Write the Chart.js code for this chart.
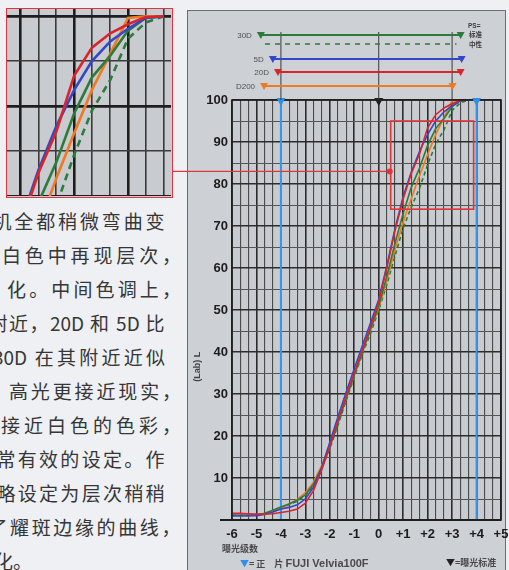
<!DOCTYPE html>
<html lang="zh-CN">
<head>
<meta charset="utf-8">
<title>色调曲线比较</title>
<script src="https://cdn.jsdelivr.net/npm/chart.js@4.4.1/dist/chart.umd.min.js"></script>
<style>
html,body{margin:0;padding:0;}
body{width:509px;height:570px;overflow:hidden;position:relative;background:#eef0f4;font-family:"Noto Sans CJK SC","Noto Sans",sans-serif;}
#panel{position:absolute;left:187px;top:10px;width:319px;height:575px;box-sizing:border-box;border:1.5px solid #6a6c70;background:#cdd0d4;}
#inset{position:absolute;left:6px;top:8px;width:167px;height:190px;box-sizing:border-box;border:1.5px solid #e2353b;background:#c8cbcf;}
#inset canvas{display:block;}
#main{position:absolute;left:0;top:0;}
.ln{position:absolute;height:24px;line-height:24px;font-size:19px;color:#363636;white-space:nowrap;text-align:justify;text-align-last:justify;}
.note{position:absolute;color:#4a4a4a;font-size:9px;line-height:12px;white-space:nowrap;font-weight:bold;}
</style>
</head>
<body>
<div id="panel"></div>

<div id="text">
  <div class="ln" style="left:-7.5px;top:209px;width:172px">机全都稍微弯曲变</div>
  <div class="ln" style="left:2px;top:243px;width:179px">白色中再现层次，</div>
  <div class="ln" style="left:7px;top:277px;width:174px">化。中间色调上，</div>
  <div class="ln" style="left:-11.5px;top:311px;width:176px">附近，20D 和 5D 比</div>
  <div class="ln" style="left:-7px;top:345px;width:172px">30D 在其附近近似</div>
  <div class="ln" style="left:9px;top:379px;width:172px">高光更接近现实，</div>
  <div class="ln" style="left:1px;top:413px;width:180px">接近白色的色彩，</div>
  <div class="ln" style="left:-3.5px;top:447px;width:168px">常有效的设定。作</div>
  <div class="ln" style="left:-3.5px;top:481px;width:168px">略设定为层次稍稍</div>
  <div class="ln" style="left:-11.5px;top:515px;width:192px">了耀斑边缘的曲线，</div>
  <div class="ln" style="left:-6px;top:549px;text-align:left;text-align-last:left">化。</div>
</div>

<div id="inset"><canvas id="zoomChart" width="164" height="187"></canvas></div>
<canvas id="main" width="509" height="570"></canvas>

<div class="note" style="left:222px;top:543px;">曝光级数</div>
<div class="note" style="left:240px;top:557px;"><span style="color:#2f8fe6">▼</span>= 正&#12288;片 <span style="font-family:'Liberation Sans',sans-serif;font-size:11px;">FUJI Velvia100F</span></div>
<div class="note" style="left:446px;top:557px;"><span style="color:#222">▼</span>=曝光标准</div>

<script>
// Exposure (stops) at which each L value was measured
const stops = [-6, -5.67, -5.33, -5, -4.67, -4.33, -4, -3.67, -3.33, -3,
               -2.67, -2.33, -2, -1.67, -1.33, -1, -0.67, -0.33, 0, 0.33,
               0.67, 1, 1.33, 1.67, 2, 2.33, 2.67, 3, 3.33, 3.67];

// L (Lab) per camera
const l20D  = [1.6, 1.6, 1.5, 1.4, 1.4, 1.5, 1.8, 2.1, 2.6, 4.0,
               7.0, 12, 17.5, 23.5, 29.5, 35, 40.5, 46, 52, 60,
               69, 76.5, 82.5, 87.2, 93.4, 96.5, 98.1, 99.1, 99.9, 100];
const l5D   = [1.0, 1.0, 1.0, 1.0, 1.3, 1.9, 2.6, 3.0, 3.6, 5.0,
               7.8, 12.5, 18.5, 24.5, 30.5, 36, 41.5, 47, 52.5, 60.5,
               69.5, 77, 82.8, 87.8, 91.8, 95, 97.2, 98.6, 99.8, 100];
const l30D  = [1.1, 1.1, 1.1, 1.2, 1.6, 2.3, 3.1, 3.8, 4.7, 6.0,
               8.5, 12.5, 17.5, 23, 29, 34.5, 40, 45.5, 51, 58,
               66, 73, 79.2, 83.8, 89.2, 93.2, 95.6, 98.4, 99.8, 100];
const lD200 = [1.1, 1.1, 1.1, 1.2, 1.5, 2.0, 2.8, 3.8, 4.9, 6.5,
               9.0, 13, 18, 23.5, 29, 34.5, 40, 45.5, 50.5, 57,
               64.5, 71, 76.5, 82, 87, 91.8, 95.8, 99.8, 100, 100];
const l30DNeutral = [1.1, 1.1, 1.1, 1.2, 1.5, 2.1, 2.9, 3.6, 4.5, 5.8,
               8.3, 12.3, 17, 22.5, 28.5, 34, 39.5, 44.5, 50, 56,
               63, 69.5, 74.5, 79, 84.6, 89.5, 92.9, 97.5, 99.3, 100];

// Axis labels
const xTickLabels = ['-6', '-5', '-4', '-3', '-2', '-1', '0', '+1', '+2', '+3', '+4', '+5'];
const yTickLabels = ['10', '20', '30', '40', '50', '60', '70', '80', '90', '100'];

// Dynamic range of each camera (stops), shown as bars above the plot
const rangeNames = ['30D', '5D', '20D', 'D200'];
const rangeLow   = [-4.82, -4.33, -4.12, -4.69];
const rangeHigh  = [3.35, 3.39, 3.35, 3.02];
const neutralRange = [-4.65, 3.18];
const guideStops = [-4, 0, 3];
const filmRange = [-4, 4];     // FUJI Velvia100F latitude
const meterStop = 0;           // metered exposure

// Magnified region and callout point
const zoomX = [0.49, 3.88];
const zoomY = [74, 95];
const calloutPoint = [0.45, 83];

const colors = {
  '20D': '#d8252d', '5D': '#3447c6', '30D': '#2d7a3c', 'D200': '#ee7a22', neutral: '#2d7a3c'
};

function series(width, dash) {
  const mk = (label, vals, color, d) => ({
    label, data: stops.map((x, i) => ({x, y: vals[i]})),
    borderColor: color, borderWidth: width, borderDash: d || [],
    pointRadius: 0, tension: 0, fill: false
  });
  return [
    mk('20D', l20D, colors['20D']),
    mk('5D', l5D, colors['5D']),
    mk('30D 标准', l30D, colors['30D']),
    mk('D200', lD200, colors['D200']),
    mk('30D 中性', l30DNeutral, colors.neutral, dash)
  ];
}

function tri(ctx, cx, topY, w, h, color) {
  ctx.beginPath();
  ctx.moveTo(cx - w / 2, topY);
  ctx.lineTo(cx + w / 2, topY);
  ctx.lineTo(cx, topY + h);
  ctx.closePath();
  ctx.fillStyle = color;
  ctx.fill();
}

const isInt = v => Math.abs(v - Math.round(v)) < 1e-6;

const decorations = {
  id: 'decorations',
  beforeDraw(chart) {
    const {ctx, chartArea: a} = chart;
    ctx.save();
    ctx.fillStyle = '#c8cbcf';
    ctx.fillRect(a.left, a.top, a.right - a.left, a.bottom - a.top);
    ctx.restore();
  },
  beforeDatasetsDraw(chart) {
    const {ctx, chartArea: a, scales: {x}} = chart;
    ctx.save();
    ctx.strokeStyle = '#3b97ea';
    ctx.lineWidth = 2;
    filmRange.forEach(v => {
      const px = x.getPixelForValue(v);
      ctx.beginPath(); ctx.moveTo(px, a.top); ctx.lineTo(px, a.bottom); ctx.stroke();
    });
    ctx.restore();
  },
  afterDatasetsDraw(chart) {
    const {ctx, chartArea: a, scales: {x, y}} = chart;
    ctx.save();

    // plot frame and base line
    ctx.strokeStyle = '#1e1e1e';
    ctx.lineWidth = 1.6;
    ctx.strokeRect(a.left, a.top, a.right - a.left, a.bottom - a.top);
    ctx.lineWidth = 2.2;
    ctx.beginPath(); ctx.moveTo(a.left - 12, a.bottom); ctx.lineTo(a.right, a.bottom); ctx.stroke();

    // markers on the top edge
    filmRange.forEach(v => tri(ctx, x.getPixelForValue(v), a.top - 2, 9, 8, '#2f8fe6'));
    tri(ctx, x.getPixelForValue(meterStop), a.top - 2, 9, 8, '#1e1e1e');

    // guides rising from the plot
    ctx.strokeStyle = '#3a3a3a';
    ctx.lineWidth = 1;
    guideStops.forEach(v => {
      const px = x.getPixelForValue(v);
      ctx.beginPath(); ctx.moveTo(px, a.top - 68); ctx.lineTo(px, a.top); ctx.stroke();
    });

    // camera range bars
    const rowY = [a.top - 65, a.top - 41, a.top - 28, a.top - 14];
    ctx.font = '8px "Liberation Sans", sans-serif';
    ctx.textBaseline = 'middle';
    rangeNames.forEach((name, i) => {
      const x1 = x.getPixelForValue(rangeLow[i]);
      const x2 = x.getPixelForValue(rangeHigh[i]);
      const c = colors[name];
      ctx.strokeStyle = c; ctx.lineWidth = 1.8;
      ctx.beginPath(); ctx.moveTo(x1, rowY[i]); ctx.lineTo(x2, rowY[i]); ctx.stroke();
      tri(ctx, x1, rowY[i] - 3, 8, 7, c);
      tri(ctx, x2, rowY[i] - 3, 8, 7, c);
      ctx.fillStyle = '#505050';
      ctx.textAlign = 'right';
      ctx.fillText(name, x1 - 9, rowY[i] + 1);
    });
    const ny = a.top - 56;
    ctx.strokeStyle = colors.neutral; ctx.lineWidth = 1.6; ctx.setLineDash([5, 5]);
    ctx.beginPath();
    ctx.moveTo(x.getPixelForValue(neutralRange[0]), ny);
    ctx.lineTo(x.getPixelForValue(neutralRange[1]), ny);
    ctx.stroke();
    ctx.setLineDash([]);

    ctx.fillStyle = '#3c3c3c';
    ctx.textAlign = 'left';
    ctx.font = 'bold 6.5px "Liberation Sans", sans-serif';
    ctx.fillText('PS=', a.right - 33, a.top - 74);
    ctx.font = 'bold 6.5px "Noto Sans CJK SC", sans-serif';
    ctx.fillText('标准', a.right - 32, a.top - 65);
    ctx.fillText('中性', a.right - 32, a.top - 55);

    // magnified region and callout
    ctx.strokeStyle = '#e2353b';
    ctx.lineWidth = 1.6;
    const rx1 = x.getPixelForValue(zoomX[0]), rx2 = x.getPixelForValue(zoomX[1]);
    const ry1 = y.getPixelForValue(zoomY[1]), ry2 = y.getPixelForValue(zoomY[0]);
    ctx.strokeRect(rx1, ry1, rx2 - rx1, ry2 - ry1);
    const dx = x.getPixelForValue(calloutPoint[0]);
    const dy = y.getPixelForValue(calloutPoint[1]);
    const insetRight = document.getElementById('inset').getBoundingClientRect().right;
    ctx.lineWidth = 1.4;
    ctx.beginPath(); ctx.moveTo(insetRight, dy); ctx.lineTo(dx, dy); ctx.stroke();
    ctx.fillStyle = '#e2353b';
    ctx.beginPath(); ctx.arc(dx, dy, 3, 0, Math.PI * 2); ctx.fill();

    // y-axis title
    ctx.save();
    ctx.translate(a.left - 34, y.getPixelForValue(36.5));
    ctx.rotate(-Math.PI / 2);
    ctx.fillStyle = '#444';
    ctx.font = 'bold 9px "Liberation Sans", sans-serif';
    ctx.textAlign = 'center';
    ctx.textBaseline = 'middle';
    ctx.fillText('(Lab) L', 0, 0);
    ctx.restore();

    ctx.restore();
  }
};

const tickFont = {family: '"Liberation Sans", Arial, sans-serif', size: 13, weight: 'bold'};

new Chart(document.getElementById('main'), {
  type: 'line',
  data: {datasets: series(1.6, [4, 3])},
  options: {
    responsive: false,
    animation: false,
    devicePixelRatio: 1,
    layout: {padding: {left: 187, top: 100, right: 8, bottom: 0}},
    plugins: {legend: {display: false}, tooltip: {enabled: false}},
    scales: {
      x: {
        type: 'linear', min: -6, max: 5,
        afterBuildTicks: s => {
          const t = [];
          for (let k = 0; k <= 33; k++) t.push({value: -6 + k / 3});
          s.ticks = t;
        },
        afterFit: s => { s.height = 50; s.paddingLeft = 0; s.paddingRight = 0; },
        ticks: {
          autoSkip: false, maxRotation: 0, padding: 7, color: '#1c1c1c', font: tickFont,
          callback: v => isInt(v) ? xTickLabels[Math.round(v) + 6] : ''
        },
        grid: {
          drawTicks: false,
          color: c => isInt(c.tick.value) ? '#2c2c2c' : '#4a4a4a',
          lineWidth: c => isInt(c.tick.value) ? 1.6 : 1.1
        },
        border: {display: false}
      },
      y: {
        type: 'linear', min: 0, max: 100,
        afterBuildTicks: s => {
          const t = [];
          for (let v = 0; v <= 100; v += 5) t.push({value: v});
          s.ticks = t;
        },
        afterFit: s => { s.width = 45; s.paddingTop = 0; s.paddingBottom = 0; },
        ticks: {
          autoSkip: false, padding: 4, color: '#1c1c1c', font: tickFont,
          callback: v => (v % 10 === 0 && v > 0) ? yTickLabels[v / 10 - 1] : ''
        },
        grid: {
          drawTicks: false,
          color: c => c.tick.value % 10 === 0 ? '#2c2c2c' : '#555',
          lineWidth: c => c.tick.value % 10 === 0 ? 1.6 : 1.0
        },
        border: {display: false}
      }
    }
  },
  plugins: [decorations]
});

// Magnified view of the highlight shoulder
new Chart(document.getElementById('zoomChart'), {
  type: 'line',
  data: {datasets: series(2.6, [7, 5])},
  options: {
    responsive: false,
    animation: false,
    devicePixelRatio: 1,
    layout: {padding: 0},
    plugins: {legend: {display: false}, tooltip: {enabled: false}},
    scales: {
      x: {
        type: 'linear', min: 0.75, max: 3.8,
        afterBuildTicks: s => {
          const t = [];
          for (let k = 3; k <= 11; k++) t.push({value: k / 3});
          s.ticks = t;
        },
        afterFit: s => { s.height = 0; s.paddingLeft = 0; s.paddingRight = 0; },
        ticks: {display: false},
        grid: {
          drawTicks: false,
          color: c => isInt(c.tick.value) ? '#1e1e1e' : '#3a3a3a',
          lineWidth: c => isInt(c.tick.value) ? 2.6 : 1.6
        },
        border: {display: false}
      },
      y: {
        type: 'linear', min: 80, max: 100.8,
        afterBuildTicks: s => { s.ticks = [80, 85, 90, 95, 100].map(v => ({value: v})); },
        afterFit: s => { s.width = 0; s.paddingTop = 0; s.paddingBottom = 0; },
        ticks: {display: false},
        grid: {
          drawTicks: false,
          color: c => c.tick.value % 10 === 0 ? '#1e1e1e' : '#3a3a3a',
          lineWidth: c => c.tick.value % 10 === 0 ? 2.8 : 1.6
        },
        border: {display: false}
      }
    }
  }
});
</script>
</body>
</html>
